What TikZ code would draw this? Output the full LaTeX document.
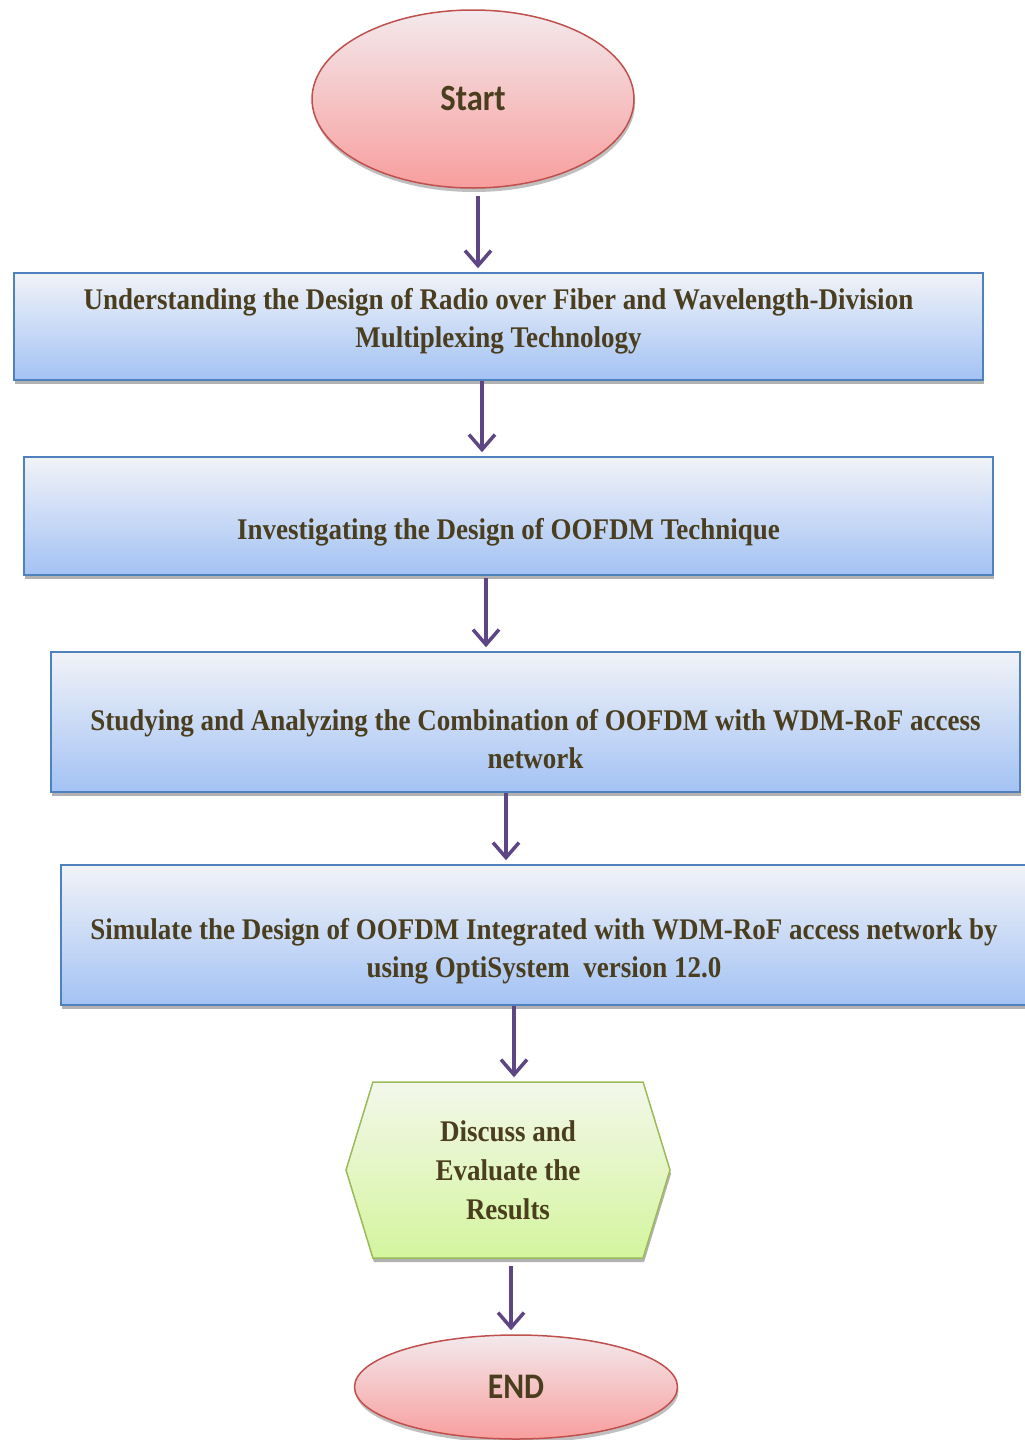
\documentclass[tikz,border=0pt]{standalone}
\usepackage{fontspec}
\setmainfont{Liberation Serif}
\newfontfamily\stepfont{Liberation Serif}[FakeStretch=0.9]
\newfontfamily\termfont{Carlito}[FakeStretch=0.88]
\usetikzlibrary{arrows.meta,shapes.geometric,shapes.symbols,shadows,calc}

\definecolor{boxline}{RGB}{79,129,189}
\definecolor{boxtop}{RGB}{241,243,248}
\definecolor{boxbot}{RGB}{163,194,244}
\definecolor{ovline}{RGB}{192,80,77}
\definecolor{ovtop}{RGB}{243,233,236}
\definecolor{ovbot}{RGB}{248,158,158}
\definecolor{hxline}{RGB}{155,187,89}
\definecolor{hxtop}{RGB}{243,247,234}
\definecolor{hxbot}{RGB}{212,245,158}
\definecolor{txt}{RGB}{74,62,30}
\definecolor{flowc}{RGB}{94,70,132}

% zero-width struts that move a label down (\dropby) or up (\liftby)
\newcommand{\dropby}[1]{\rule{0pt}{\dimexpr 21pt+2\dimexpr #1\relax\relax}}
\newcommand{\liftby}[1]{\rule[-\dimexpr 6.5pt+2\dimexpr #1\relax\relax]{0pt}{0pt}}

\tikzset{
  stepbox/.style={rectangle, draw=boxline, line width=1.5pt,
    top color=boxtop, bottom color=boxbot,
    drop shadow={shadow xshift=1pt, shadow yshift=-4pt, opacity=0.3, fill=black},
    font=\stepfont\bfseries\fontsize{30}{38}\selectfont, text=txt,
    align=center, inner sep=0pt},
  terminal/.style={ellipse, draw=ovline, line width=1.5pt,
    top color=ovtop, bottom color=ovbot,
    drop shadow={shadow xshift=1pt, shadow yshift=-4pt, opacity=0.25, fill=black},
    font=\termfont\bfseries, text=txt, inner sep=0pt},
  decision/.style={signal, signal to=east and west, signal pointer angle=146,
    draw=hxline, line width=1.5pt, top color=hxtop, bottom color=hxbot,
    drop shadow={shadow xshift=1pt, shadow yshift=-4pt, opacity=0.3, fill=black},
    font=\stepfont\bfseries\fontsize{30}{39}\selectfont, text=txt,
    align=center, inner sep=0pt},
  flow/.style={draw=flowc, line width=4pt,
    -{Straight Barb[length=15pt, width=26pt, line width=3.5pt]}, shorten >=4pt}
}

\begin{document}
\begin{tikzpicture}[x=1pt, y=-1pt]
  \useasboundingbox (0,0) rectangle (1025,1440);

  \node[terminal, minimum width=322pt, minimum height=178pt,
        font=\termfont\bfseries\fontsize{37}{40}\selectfont] (start) at (473,99) {Start};

  \node[stepbox, minimum width=969pt, minimum height=107pt] (b1) at (498.5,326.5)
    {Understanding the Design of Radio over Fiber and Wavelength-Division\\
     Multiplexing Technology\liftby{5pt}};

  \node[stepbox, minimum width=969pt, minimum height=118pt] (b2) at (508.5,516)
    {\dropby{16pt}Investigating the Design of OOFDM Technique};

  \node[stepbox, minimum width=969pt, minimum height=140pt] (b3) at (535.5,722)
    {\dropby{17pt}Studying and Analyzing the Combination of OOFDM with WDM-RoF access\\
     network};

  \node[stepbox, minimum width=966pt, minimum height=140pt] (b4) at (544,935)
    {\dropby{16pt}Simulate the Design of OOFDM Integrated with WDM-RoF access network by\\
     using OptiSystem\ \ version 12.0};

  \node[decision, minimum width=324pt, minimum height=176pt] (hx) at (508,1170)
    {Discuss and\\ Evaluate the\\ Results};

  \node[terminal, minimum width=323pt, minimum height=104pt,
        font=\termfont\bfseries\fontsize{36}{40}\selectfont] (end) at (516,1387) {END};

  % connector start points
  \coordinate (s1) at ([xshift=5pt,yshift=-7pt]start.south);
  \coordinate (s2) at ([xshift=-16.5pt]b1.south);
  \coordinate (s3) at ([xshift=-22.5pt,yshift=-2pt]b2.south);
  \coordinate (s4) at ([xshift=-29.5pt]b3.south);
  \coordinate (s5) at ([xshift=-30pt]b4.south);
  \coordinate (s6) at ([xshift=3pt,yshift=-7pt]hx.south);

  \draw[flow] (s1) -- (s1 |- b1.north);
  \draw[flow] (s2) -- (s2 |- b2.north);
  \draw[flow] (s3) -- (s3 |- b3.north);
  \draw[flow] (s4) -- (s4 |- b4.north);
  \draw[flow] (s5) -- (s5 |- hx.north);
  \draw[flow] (s6) -- (s6 |- end.north);
\end{tikzpicture}
\end{document}
